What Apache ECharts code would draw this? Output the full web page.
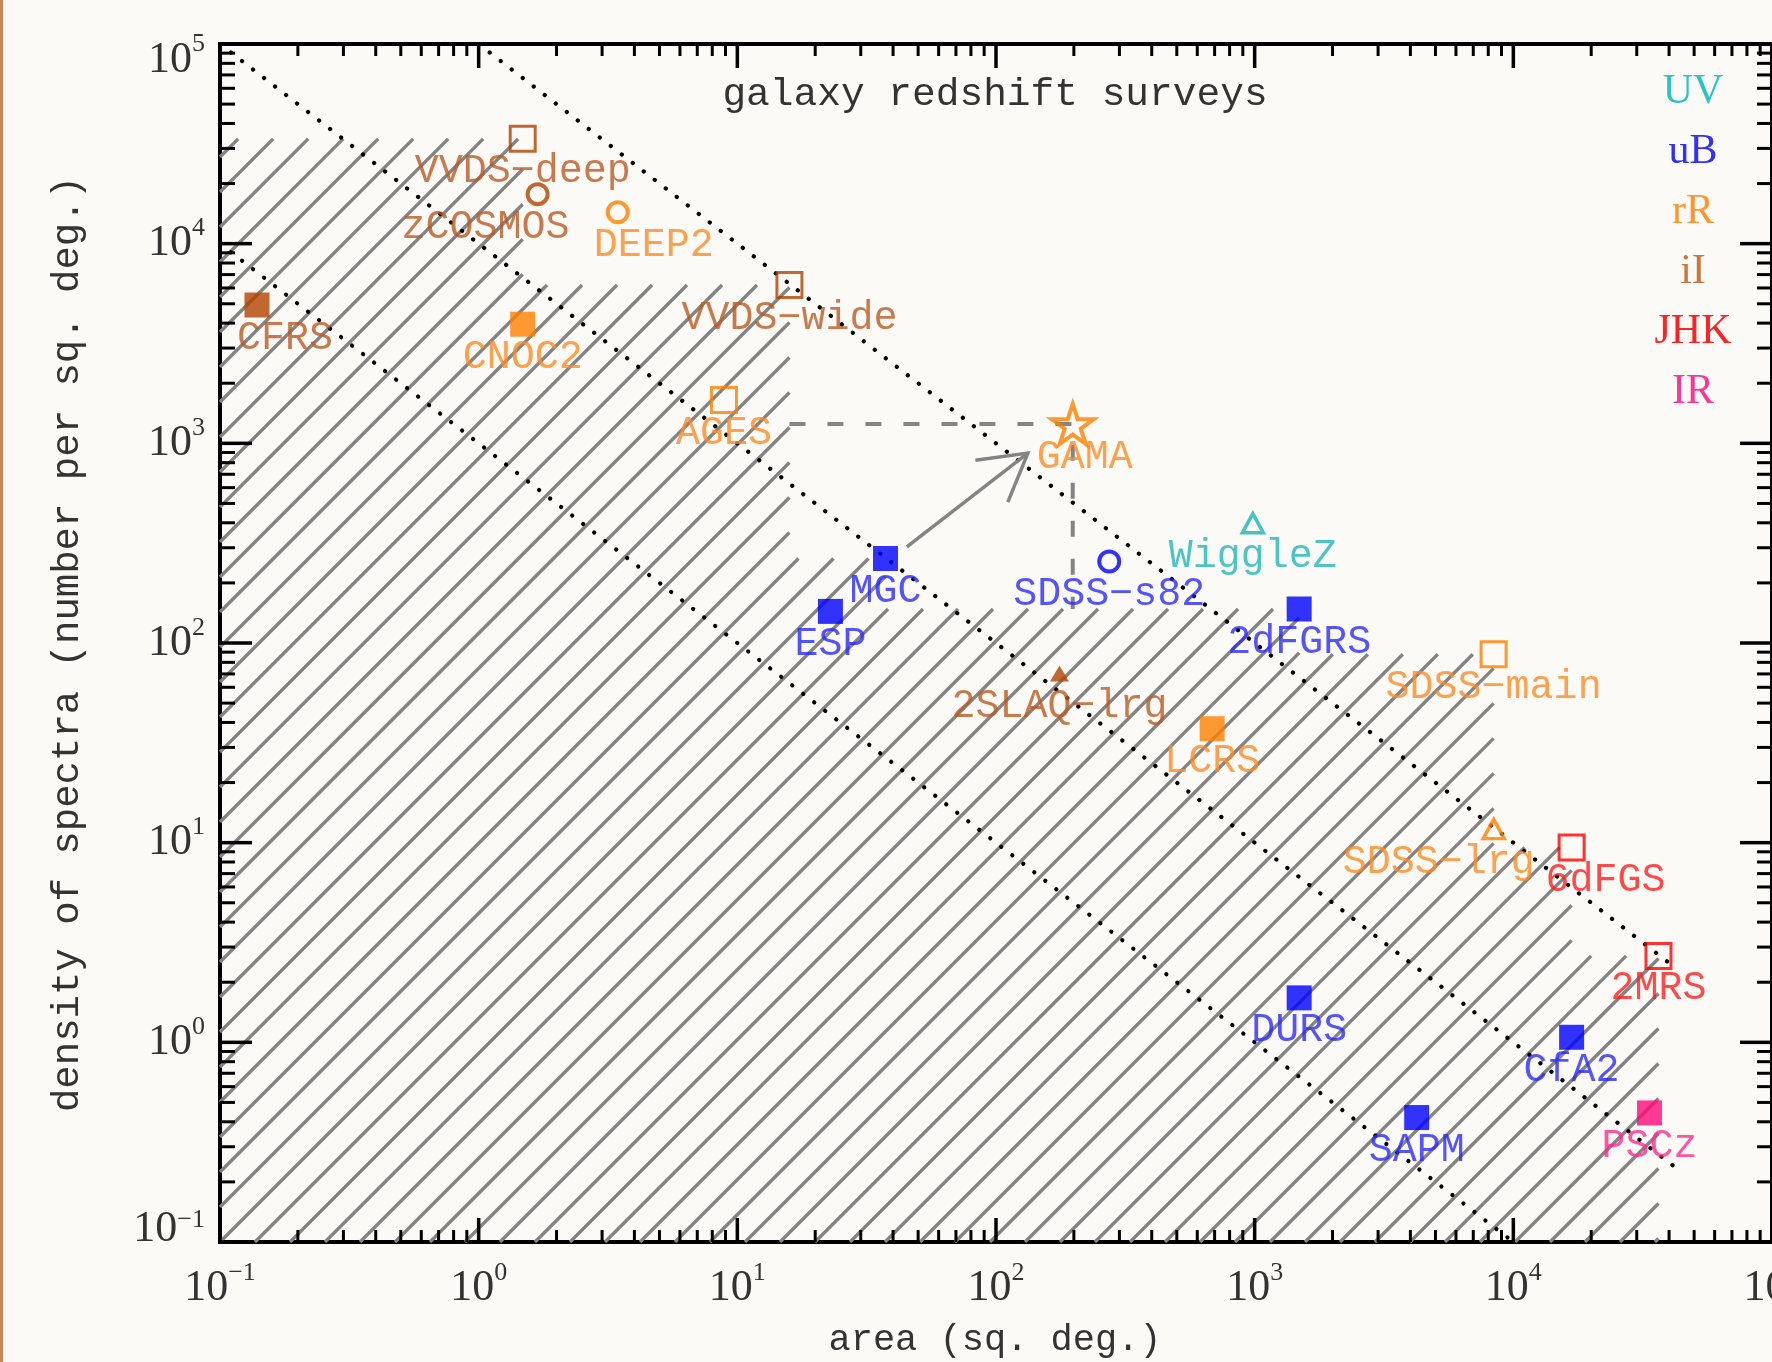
<!DOCTYPE html>
<html><head><meta charset="utf-8">
<script src="https://cdn.jsdelivr.net/npm/echarts@6/dist/echarts.min.js"></script>
<style>html,body{margin:0;padding:0;background:#fbfaf6}#c{width:1772px;height:1362px}</style>
</head><body><div id="c"></div>
<script>
// ---------------- data ----------------
const surveyNames   = ['CFRS','VVDS−deep','zCOSMOS','DEEP2','VVDS−wide','CNOC2','AGES','GAMA','MGC','ESP','SDSS−s82','WiggleZ','2dFGRS','2SLAQ−lrg','LCRS','SDSS−main','SDSS−lrg','6dFGS','2MRS','DURS','CfA2','SAPM','PSCz'];
const surveyArea    = [0.139, 1.48, 1.69, 3.45, 15.9, 1.48, 8.88, 198, 37.4, 22.9, 274, 984, 1486, 176, 685, 8390, 8400, 16800, 36400, 1486, 16800, 4230, 33600];
const surveyDensity = [4930, 33500, 17700, 14350, 6210, 3950, 1650, 1250, 265, 144, 256, 398, 148, 70.4, 37.2, 87.9, 11.7, 9.47, 2.71, 1.67, 1.06, 0.42, 0.443];
const surveyBand    = ['iI','iI','iI','rR','iI','rR','rR','rR','uB','uB','uB','UV','uB','iI','rR','rR','rR','JHK','JHK','uB','uB','uB','IR'];
const surveyMarker  = ['fsq','osq','ocirc','ocirc','osq','fsq','osq','star','fsq','fsq','ocirc','otri','fsq','ftri','fsq','osq','otri','osq','osq','fsq','fsq','fsq','fsq'];

const bandNames = ['UV','uB','rR','iI','JHK','IR'];

// lines of constant number of spectra
const constNumber    = [1e5, 1e4, 1e3];
const constAreaStart = [1, 0.1, 0.1];
const constAreaEnd   = [41253, 41253, 10000];

// GAMA guide (dashed) and arrow from MGC
const guideArea    = [15.9, 198, 198];
const guideDensity = [1250, 1250, 148];
const arrowFrom = [45.2, 303];
const arrowTo   = [132.8, 894];

// axis ticks
const decades = [0.1, 1, 10, 100, 1000, 10000, 100000];
const minorSteps = [2, 3, 4, 5, 6, 7, 8, 9];

// ---------------- styles ----------------
const markerColor = {UV:'#1cb4b4', uB:'#0000ff', rR:'#ff8000', iI:'#b34400', JHK:'#ff0000', IR:'#ff0a7a'};
const labelColor  = {UV:'#22b8b8', uB:'#2b2bff', rR:'#ff8a22', iI:'#bd5a22', JHK:'#ff1f1f', IR:'#ff2a8c'};
const legendColor = {UV:'#2ec3c3', uB:'#3030ff', rR:'#ff9430', iI:'#c8773f', JHK:'#ff2222', IR:'#ff3596'};
const labelShift = {'CFRS':28, 'zCOSMOS':-52, 'DEEP2':36, 'GAMA':12, 'SDSS−lrg':-55, '6dFGS':34};
const MONO = '"Liberation Mono", "DejaVu Sans Mono", monospace';
const SERIF = '"Liberation Serif", "DejaVu Serif", serif';
const GRAY = '#848484';
const starPath = 'path://M50 0 L61.23 34.55 L97.55 34.55 L68.17 55.9 L79.39 90.45 L50 69.1 L20.61 90.45 L31.83 55.9 L2.45 34.55 L38.77 34.55 Z';

function markerStyle(kind, color) {
  switch (kind) {
    case 'fsq':  return {symbol:'rect', symbolSize:25, itemStyle:{color:color, borderWidth:0}};
    case 'osq':  return {symbol:'rect', symbolSize:25, itemStyle:{color:'rgba(0,0,0,0)', borderColor:color, borderWidth:3}};
    case 'ocirc':return {symbol:'circle', symbolSize:20, itemStyle:{color:'rgba(0,0,0,0)', borderColor:color, borderWidth:4}};
    case 'otri': return {symbol:'triangle', symbolSize:[21,19], itemStyle:{color:'rgba(0,0,0,0)', borderColor:color, borderWidth:3.5}};
    case 'ftri': return {symbol:'triangle', symbolSize:[19,16], itemStyle:{color:color, borderWidth:0}};
    case 'star': return {symbol:starPath, symbolSize:[42,40], itemStyle:{color:'rgba(0,0,0,0)', borderColor:color, borderWidth:4}};
  }
}

const scatterData = surveyNames.map((nm, i) => {
  const m = markerStyle(surveyMarker[i], markerColor[surveyBand[i]]);
  return Object.assign({
    name: nm,
    value: [surveyArea[i], surveyDensity[i]],
    label: {show:true, position:'inside', formatter: nm, offset:[labelShift[nm] || 0, 33],
            color: labelColor[surveyBand[i]], fontFamily: MONO, fontSize: 40}
  }, m);
});

// staircase envelope of completed (square-marker) surveys
const sqIdx = surveyMarker.map((m, i) => i).filter(i => surveyMarker[i] === 'fsq' || surveyMarker[i] === 'osq')
  .sort((a, b) => surveyArea[a] - surveyArea[b]);
const steps = [];
let runMax = 0;
for (let k = sqIdx.length - 1; k >= 0; k--) {
  const i = sqIdx[k];
  if (surveyDensity[i] > runMax) { runMax = surveyDensity[i]; steps.unshift({a: surveyArea[i], d: surveyDensity[i]}); }
}

function renderHatch(params, api) {
  const cs = params.coordSys;
  const L = cs.x, B = cs.y + cs.height;
  const X = [], T = [];
  steps.forEach(s => { const p = api.coord([s.a, s.d]); X.push(p[0]); T.push(p[1]); });
  const n = X.length, xEnd = X[n - 1], gap = 35;
  const children = [];
  for (let xb = L - Math.floor((B - T[0]) / gap) * gap; xb <= xEnd; xb += gap) {
    const yAt = x => B - (x - xb);
    const xs = Math.max(L, xb);
    let end = null, prevX = L;
    for (let j = 0; j < n; j++) {
      const a = Math.max(xs, prevX), b = X[j];
      prevX = X[j];
      if (a > b) continue;
      const ya = yAt(a);
      if (ya < T[j]) { end = [a, ya]; break; }
      const xstar = xb + (B - T[j]);
      if (xstar <= b) { end = [xstar, T[j]]; break; }
    }
    if (!end) end = [xEnd, yAt(xEnd)];
    if (end[0] - xs < 0.5) continue;
    children.push({type:'line', shape:{x1:xs, y1:yAt(xs), x2:end[0], y2:end[1]},
                   style:{stroke:GRAY, lineWidth:3.4}});
  }
  return {type:'group', children};
}

function renderArrow(params, api) {
  const p1 = api.coord([api.value(0), api.value(1)]);
  const p2 = api.coord([api.value(2), api.value(3)]);
  const ang = Math.atan2(p2[1] - p1[1], p2[0] - p1[0]);
  const hl = 53, ha = Math.PI / 6;
  const h1 = [p2[0] - hl * Math.cos(ang - ha), p2[1] - hl * Math.sin(ang - ha)];
  const h2 = [p2[0] - hl * Math.cos(ang + ha), p2[1] - hl * Math.sin(ang + ha)];
  const st = {stroke:GRAY, lineWidth:3.5, fill:null};
  return {type:'group', children:[
    {type:'line', shape:{x1:p1[0], y1:p1[1], x2:p2[0], y2:p2[1]}, style:st},
    {type:'polyline', shape:{points:[h1, p2, h2]}, style:st}
  ]};
}

function renderTicks(params, api) {
  const cs = params.coordSys;
  const L = cs.x, T = cs.y, R = cs.x + cs.width, B = cs.y + cs.height;
  const ch = [];
  const st = (w) => ({stroke:'#000', lineWidth:w});
  decades.forEach(d => {
    [1].concat(minorSteps).forEach(m => {
      const v = d * m;
      if (v > decades[decades.length - 1] * 1.0001) return;
      const major = m === 1;
      const px = api.coord([v, decades[0]])[0];
      const py = api.coord([decades[0], v])[1];
      const lx = major ? 24 : 12, ly = major ? 32 : 15, w = major ? 3.5 : 3;
      ch.push({type:'line', shape:{x1:px, y1:B, x2:px, y2:B - lx}, style:st(w)});
      ch.push({type:'line', shape:{x1:px, y1:T, x2:px, y2:T + lx}, style:st(w)});
      ch.push({type:'line', shape:{x1:L, y1:py, x2:L + ly, y2:py}, style:st(w)});
      ch.push({type:'line', shape:{x1:R, y1:py, x2:R - ly, y2:py}, style:st(w)});
    });
  });
  return {type:'group', children:ch};
}

function expText(v) {
  const e = Math.round(Math.log10(v));
  return e < 0 ? '−' + (-e) : String(e);
}
function xLabel(v) { return '{b|10}{s|' + expText(v) + '}'; }
function yLabel(v) {
  const e = Math.round(Math.log10(v));
  const lo = Math.round(Math.log10(decades[0])), hi = Math.round(Math.log10(decades[decades.length - 1]));
  if (e === hi) return '{padT| }{bT|10}{sM|' + expText(v) + '}';
  if (e === lo) return '{padB| }{bB|10}{s|' + expText(v) + '}';
  return '{b|10}{s|' + expText(v) + '}';
}
const bStyle = {fontFamily:SERIF, fontSize:44, color:'#333', lineHeight:56};
const sStyle = {fontFamily:SERIF, fontSize:26, color:'#333', lineHeight:30, verticalAlign:'top'};
const labelRich = {
  b: bStyle, s: sStyle,
  padT: {fontSize:1, lineHeight:76},
  padB: {fontSize:1, lineHeight:70},
  bT: Object.assign({}, bStyle, {verticalAlign:'bottom'}),
  sM: Object.assign({}, sStyle, {verticalAlign:'middle'}),
  bB: Object.assign({}, bStyle, {verticalAlign:'top'})
};

const series = [
  {type:'custom', z:1, renderItem:renderHatch, data:[[decades[0], decades[0]]], silent:true}
];
constNumber.forEach((N, i) => {
  series.push({type:'line', z:2, symbol:'none', silent:true,
    data:[[constAreaStart[i], N / constAreaStart[i]], [constAreaEnd[i], N / constAreaEnd[i]]],
    lineStyle:{color:'#000', width:4.2, type:[0.1, 13.8], cap:'round'}});
});
series.push({type:'line', z:3, symbol:'none', silent:true,
  data: guideArea.map((a, i) => [a, guideDensity[i]]),
  lineStyle:{color:GRAY, width:4, type:[16, 22]}});
series.push({type:'custom', z:3, renderItem:renderArrow, data:[[arrowFrom[0], arrowFrom[1], arrowTo[0], arrowTo[1]]], silent:true});
series.push({type:'scatter', z:4, data:scatterData, silent:true});
series.push({type:'custom', z:5, renderItem:renderTicks, data:[[decades[0], decades[0]]], silent:true});

const graphics = [
  {type:'rect', shape:{x:0, y:0, width:3, height:1362}, style:{fill:'#c98659'}},
  {type:'text', x:995, y:95, style:{text:'galaxy redshift surveys', fontFamily:MONO, fontSize:39.5, fill:'#333', align:'center', verticalAlign:'middle'}},
  {type:'text', x:995, y:1340, style:{text:'area (sq. deg.)', fontFamily:MONO, fontSize:37, fill:'#333', align:'center', verticalAlign:'middle'}},
  {type:'text', x:68, y:644, rotation:Math.PI/2, style:{text:'density of spectra (number per sq. deg.)', fontFamily:MONO, fontSize:39, fill:'#333', align:'center', verticalAlign:'middle'}}
];
bandNames.forEach((b, i) => {
  graphics.push({type:'text', x:1693, y:92 + i * 60, style:{text:b, fontFamily:SERIF, fontSize:42, fill:legendColor[b], align:'center', verticalAlign:'middle'}});
});

const chart = echarts.init(document.getElementById('c'), null, {renderer:'canvas'});
chart.setOption({
  animation:false,
  backgroundColor:'#fbfaf6',
  grid:{left:220, right:0, top:44, bottom:120, outerBoundsMode:'none', containLabel:false,
        show:true, borderColor:'#000', borderWidth:4, backgroundColor:'rgba(0,0,0,0)'},
  xAxis:{type:'log', logBase:10, min:decades[0], max:decades[decades.length-1], splitNumber:6,
    axisLine:{show:false}, axisTick:{show:false}, splitLine:{show:false},
    axisLabel:{margin:18, formatter:xLabel, rich:labelRich, hideOverlap:false}},
  yAxis:{type:'log', logBase:10, min:decades[0], max:decades[decades.length-1], splitNumber:6,
    axisLine:{show:false}, axisTick:{show:false}, splitLine:{show:false},
    axisLabel:{margin:15, formatter:yLabel, rich:labelRich}},
  graphic:graphics,
  series:series
});
</script></body></html>
